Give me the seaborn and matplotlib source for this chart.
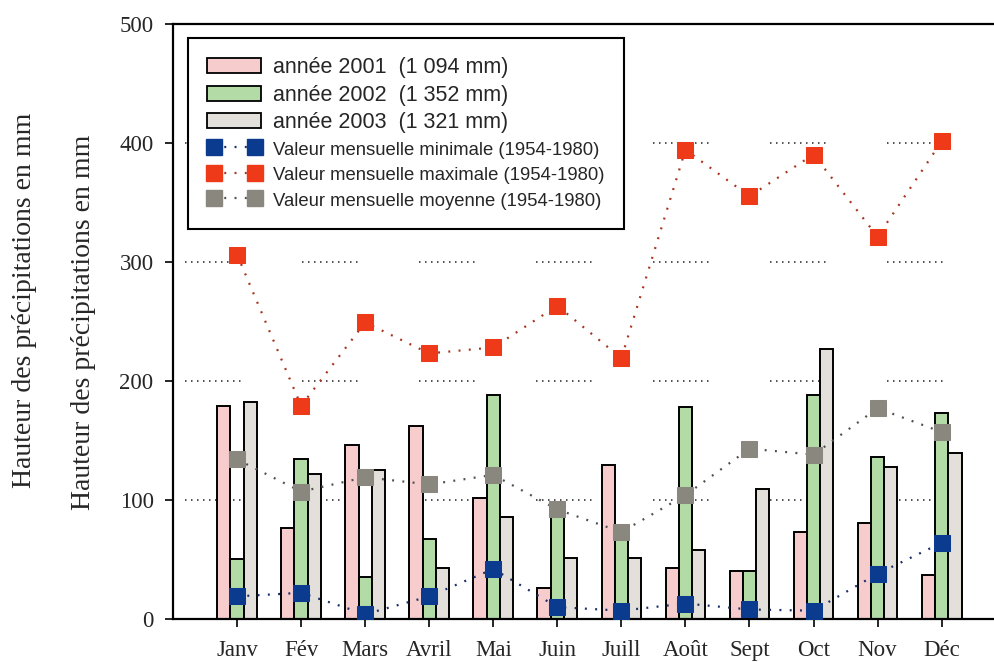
import numpy as np
import pandas as pd
import matplotlib
matplotlib.use("Agg")
import matplotlib.pyplot as plt
import seaborn as sns
from matplotlib.patches import Patch
from matplotlib.lines import Line2D

# ---- data ----
months = ['Janv', 'Fév', 'Mars', 'Avril', 'Mai', 'Juin', 'Juill', 'Août', 'Sept', 'Oct', 'Nov', 'Déc']
p2001 = [179, 76, 146, 162, 102, 26, 129, 43, 40, 73, 81, 37]
p2002 = [50, 134, 35, 67, 188, 92, 71, 178, 40, 188, 136, 173]
p2003 = [182, 122, 125, 43, 86, 51, 51, 58, 109, 227, 128, 139]
val_min = [19, 22, 4, 19, 42, 10, 7, 13, 8, 7, 38, 64]
val_max = [306, 179, 249, 223, 228, 263, 219, 394, 355, 390, 321, 401]
val_moy = [134, 107, 119, 113, 121, 92, 73, 104, 143, 138, 177, 157]
year_labels = ['année 2001  (1 094 mm)', 'année 2002  (1 352 mm)', 'année 2003  (1 321 mm)']
line_labels = ['Valeur mensuelle minimale (1954-1980)',
               'Valeur mensuelle maximale (1954-1980)',
               'Valeur mensuelle moyenne (1954-1980)']
ylabel = 'Hauteur des précipitations en mm'
yticks = [0, 100, 200, 300, 400, 500]

# ---- style ----
sns.set_style('ticks')
plt.rcParams['font.family'] = ['Liberation Serif', 'DejaVu Serif']
plt.rcParams['lines.scale_dashes'] = False

bar_colors = ['#f6cccc', '#b2dba6', '#e3e0dc']
mk_colors = ['#0b3b8f', '#ee3a18', '#8a887e']
ln_colors = ['#1a2d6a', '#a8341f', '#505050']

df = pd.DataFrame({
    'mois': months * 3,
    'val': p2001 + p2002 + p2003,
    'annee': [year_labels[0]] * 12 + [year_labels[1]] * 12 + [year_labels[2]] * 12,
})

fig = plt.figure(figsize=(9.94, 6.62), dpi=100)
ax = fig.add_axes([173 / 994, 43 / 662, 1 - 173 / 994 + 0.001, (619 - 23.5) / 662])

# dotted grid segments
px = 72 / 100.0
seq = []
for i in range(9):
    seq += [1.5 * px, 4.5 * px]
seq += [1.5 * px, 61.5 * px]
for yv in yticks[1:-1]:
    ax.axhline(yv, color='#333333', lw=1.2, linestyle=(105 * px, seq), zorder=0.5)

sns.barplot(data=df, x='mois', y='val', hue='annee', order=months, hue_order=year_labels,
            palette=bar_colors, width=0.62, saturation=1, edgecolor='black',
            linewidth=1.4, ax=ax, legend=False, zorder=2)

xs = np.arange(len(months))
for vals, mc, lc in zip([val_min, val_max, val_moy], mk_colors, ln_colors):
    sns.lineplot(x=xs, y=vals, ax=ax, color=lc, lw=1.6, marker='s', markersize=11.5,
                 markerfacecolor=mc, markeredgecolor=mc, zorder=4)
    ax.lines[-1].set_linestyle((0, (1.4, 6.0)))

ax.set_xlim(-1.0, (994 - 236.7) / 64.0)
ax.set_ylim(0, 500)
ax.set_yticks(yticks)
ax.set_xlabel('')
ax.set_ylabel('')
for s in ['left', 'bottom', 'top']:
    ax.spines[s].set_linewidth(1.6)
    ax.spines[s].set_color('black')
ax.spines['right'].set_visible(False)
ax.tick_params(axis='y', direction='out', length=6, width=1.4, pad=8, labelsize=16.5)
ax.tick_params(axis='x', direction='out', length=6, width=1.4, pad=9, labelsize=16.5)

# y labels (doubled as in the original)
fig.text(25 / 994, 1 - 300 / 662, ylabel, rotation=90, ha='center', va='center', fontsize=20)
fig.text(84 / 994, 1 - 322 / 662, ylabel, rotation=90, ha='center', va='center', fontsize=20)

# legend
handles = [Patch(facecolor=c, edgecolor='black', lw=1.3) for c in bar_colors]
for mc, lc in zip(mk_colors, ln_colors):
    handles.append(Line2D([], [], color=lc, lw=1.6, linestyle=(0, (1.4, 6.0)), marker='s',
                          markersize=11.5, markerfacecolor=mc, markeredgecolor=mc))
leg = ax.legend(handles, year_labels + line_labels, loc='upper left',
                bbox_to_anchor=((188 - 173) / 821, (619 - 38) / 595.5), borderaxespad=0,
                prop={'family': 'Liberation Sans', 'size': 15.5}, numpoints=2,
                handlelength=2.5, handletextpad=0.55, labelspacing=0.3, borderpad=0.9,
                frameon=True, fancybox=False, framealpha=1, edgecolor='black')
leg.get_frame().set_linewidth(1.5)
for t in leg.get_texts()[3:]:
    t.set_fontsize(13.3)
leg.set_zorder(10)

fig.savefig('out.png', dpi=100)
